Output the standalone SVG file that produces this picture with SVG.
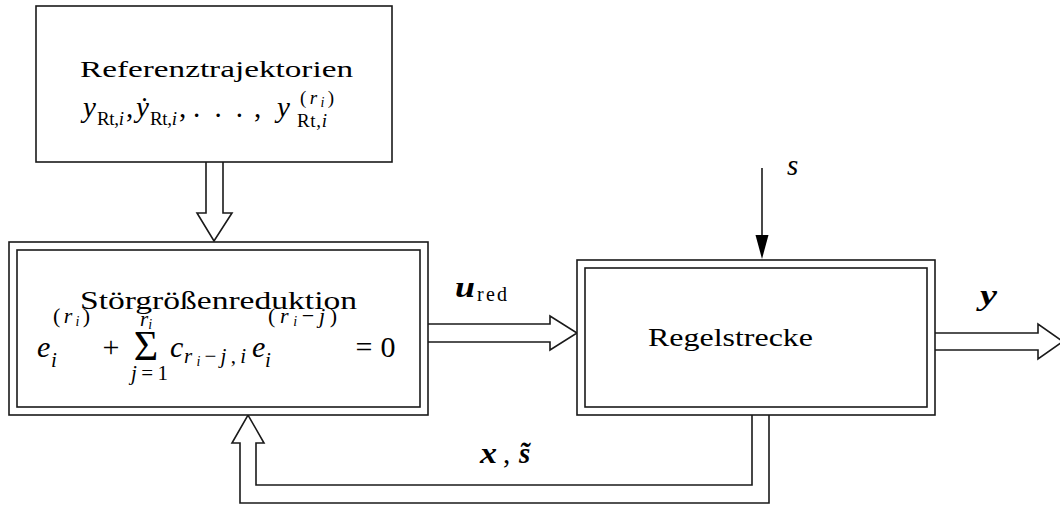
<svg xmlns="http://www.w3.org/2000/svg" width="1060" height="506" viewBox="0 0 1060 506" font-family="'Liberation Serif', 'DejaVu Serif', serif">
<style>
.box{fill:#fff;stroke:#1a1a1a;stroke-width:1.6}
.con{fill:#fff;stroke:#1a1a1a;stroke-width:1.6;stroke-linejoin:miter}
.t{font-family:'Liberation Serif','DejaVu Serif',serif;fill:#000}
.m{font-size:29px}
.it{font-style:italic}
.sm{font-size:19px}
.xs{font-size:14px}
.bi{font-weight:bold;font-style:italic}
</style>
<g id="connectors">
<path class="con" d="M206,162 V213 H197 L214,241 L232,213 H223 V162"/>
<path class="con" d="M428,324 H550 V316 L577,333 L550,350 V342 H428"/>
<path class="con" d="M935,333 H1038 V324 L1063,341.5 L1038,359 V350 H935"/>
<path class="con" d="M769,415 V503 H240 V443 H232 L248,415 L264,443 H256 V485 H752 V415"/>
<line x1="762" y1="168" x2="762" y2="240" stroke="#1a1a1a" stroke-width="1.6"/>
<polygon points="755.5,235 762,259 768.5,235" fill="#000"/>
<text class="t m bi" x="455" y="297" textLength="20" lengthAdjust="spacingAndGlyphs">u</text>
<text class="t" style="font-size:20px" x="477" y="301" textLength="30" lengthAdjust="spacing">red</text>
<text class="t m bi" x="980" y="305" textLength="17" lengthAdjust="spacingAndGlyphs">y</text>
<text class="t m bi" x="480" y="463" textLength="17" lengthAdjust="spacingAndGlyphs">x</text>
<text class="t m" x="503" y="463">,</text>
<text class="t m bi" x="519" y="463">s̃</text>
<text class="t m it" x="787" y="175">s</text>
</g>
<g id="referenz">
<rect class="box" x="36" y="6" width="356" height="156"/>
<text class="t" style="font-size:24px" x="80" y="77" textLength="273" lengthAdjust="spacingAndGlyphs">Referenztrajektorien</text>
<text class="t m it" x="83" y="117">y</text>
<text class="t sm" x="97" y="125" textLength="27" lengthAdjust="spacing">Rt,<tspan class="it">i</tspan></text>
<text class="t m" x="126" y="117">,</text>
<text class="t m it" x="136" y="117">ẏ</text>
<text class="t sm" x="150" y="125" textLength="27" lengthAdjust="spacing">Rt,<tspan class="it">i</tspan></text>
<text class="t m" x="179" y="117">,</text>
<text class="t m" x="193" y="117" textLength="50" lengthAdjust="spacing">. . .</text>
<text class="t m" x="254" y="117">,</text>
<text class="t m it" x="277" y="117">y</text>
<text class="t sm" x="300" y="104" textLength="34" lengthAdjust="spacing">(<tspan class="it">r</tspan><tspan class="xs it" dy="3">i</tspan><tspan dy="-3">)</tspan></text>
<text class="t sm" x="297" y="127" textLength="30" lengthAdjust="spacing">Rt,<tspan class="it">i</tspan></text>
</g>
<g id="stoergroessenreduktion">
<rect class="box" x="9" y="242" width="419" height="173"/>
<rect class="box" x="17" y="250" width="403" height="157"/>
<text class="t" style="font-size:25px" x="80" y="309" textLength="277" lengthAdjust="spacingAndGlyphs">Störgrößenreduktion</text>
<text class="t it" style="font-size:30px" x="37" y="357">e</text>
<text class="t" style="font-size:22px" x="53" y="323" textLength="37" lengthAdjust="spacing">(<tspan class="it">r</tspan><tspan class="xs it" dy="3">i</tspan><tspan dy="-3">)</tspan></text>
<text class="t it" style="font-size:21px" x="51" y="367">i</text>
<text class="t" style="font-size:30px" x="111" y="357" text-anchor="middle">+</text>
<text class="t" style="font-size:42px" x="146" y="360" text-anchor="middle">Σ</text>
<text class="t it" style="font-size:21px" x="140" y="326">r<tspan class="xs" dy="3">i</tspan></text>
<text class="t" style="font-size:21px" x="131" y="380" textLength="37" lengthAdjust="spacing"><tspan class="it">j</tspan>=1</text>
<text class="t it" style="font-size:30px" x="170" y="357">c</text>
<text class="t" style="font-size:21px" x="184" y="363" textLength="62" lengthAdjust="spacing"><tspan class="it">r</tspan><tspan class="xs it" dy="3">i</tspan><tspan dy="-3">−</tspan><tspan class="it">j</tspan>,<tspan class="it">i</tspan></text>
<text class="t it" style="font-size:30px" x="252" y="357">e</text>
<text class="t" style="font-size:22px" x="268" y="323" textLength="69" lengthAdjust="spacing">(<tspan class="it">r</tspan><tspan class="xs it" dy="3">i</tspan><tspan dy="-3">−</tspan><tspan class="it">j</tspan>)</text>
<text class="t it" style="font-size:21px" x="265" y="367">i</text>
<text class="t" style="font-size:30px" x="364" y="357" text-anchor="middle">=</text>
<text class="t" style="font-size:30px" x="388" y="357" text-anchor="middle">0</text>
</g>
<g id="regelstrecke">
<rect class="box" x="577" y="260" width="358" height="155"/>
<rect class="box" x="585" y="268" width="342" height="139"/>
<text class="t" style="font-size:25px" x="648" y="346" textLength="165" lengthAdjust="spacingAndGlyphs">Regelstrecke</text>
</g>
</svg>
